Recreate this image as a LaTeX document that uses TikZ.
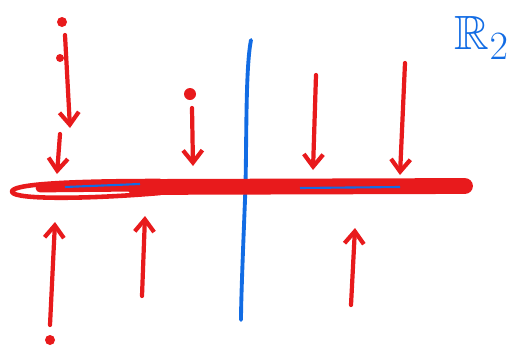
\documentclass[tikz,border=0pt]{standalone}
\usepackage{amssymb}
\usepackage{tikz}
\usetikzlibrary{arrows.meta}
\definecolor{inkred}{RGB}{232,26,28}
\definecolor{inkblue}{RGB}{18,108,228}
\tikzset{
  pen/.style={inkred, line width=2.4pt, line cap=round, line join=round},
  ray/.style={pen, -{Straight Barb[length=7pt,width=11pt,line width=2.4pt]}},
}
\begin{document}
\begin{tikzpicture}[x=0.02cm, y=-0.02cm]
\useasboundingbox (0,0) rectangle (517,352);

% the line
\draw[inkblue, line width=2.2pt, line cap=round] (251,40) .. controls (245,70) and (247,150) .. (245,200) .. controls (243,250) and (241,300) .. (241,320);
\draw[pen, line width=9pt] (135,187) -- (465,186);
\draw[pen, line width=2.6pt] (160,181) .. controls (70,181) and (10,184) .. (12,192) .. controls (15,200) and (90,199) .. (160,193);
\draw[pen, line width=5pt] (40,188) -- (150,187);
\draw[inkblue, line width=1.2pt] (65,187) -- (140,184);
\draw[inkblue, line width=1.2pt] (300,188) -- (400,187);

% dots
\fill[inkred] (62,22) circle (5);
\fill[inkred] (60,58) circle (4);
\fill[inkred] (190,94) circle (6);
\fill[inkred] (50,340) circle (5);

% arrows from above
\draw[ray] (65,35) -- (70,128);
\draw[ray] (60,134) -- (57,174);
\draw[ray] (192,108) -- (193,166);
\draw[ray] (316,75) -- (313,170);
\draw[ray] (405,63) -- (400,175);

% arrows from below
\draw[ray] (50,325) -- (55,222);
\draw[ray] (142,296) -- (145,216);
\draw[ray] (351,305) -- (355,228);

\node[inkblue, font=\Huge, scale=1.1] (label) at (482,38) {$\mathbb{R}_2$};

\end{tikzpicture}
\end{document}
